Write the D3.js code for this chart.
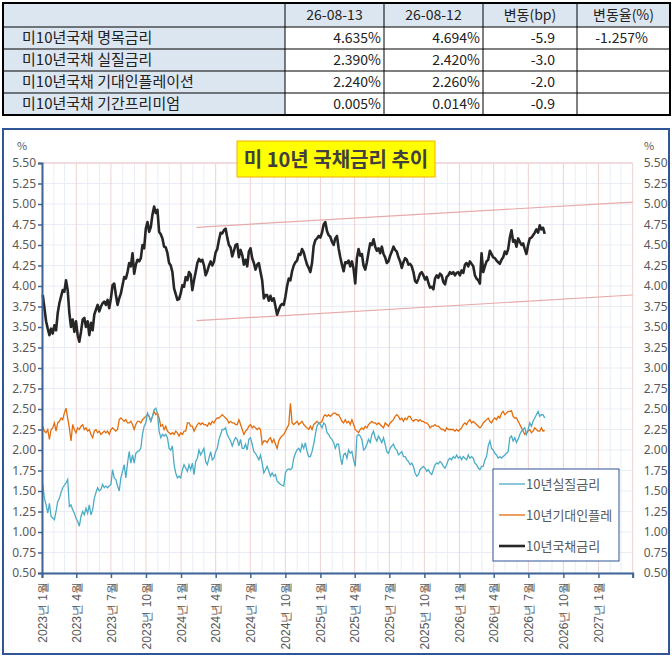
<!DOCTYPE html>
<html>
<head>
<meta charset="utf-8">
<script src="https://cdn.jsdelivr.net/npm/d3@7"></script>
<style>
  body { margin: 0; background: #fff; }
  svg { display: block; font-family: "Noto Sans CJK KR", "Noto Sans", sans-serif; }
</style>
</head>
<body>
<svg id="chart" width="672" height="656"></svg>
<script>
// ---- table data ----
var tableHeaders = ["", "26-08-13", "26-08-12", "변동(bp)", "변동율(%)"];
var rowNames = ["미10년국채 명목금리", "미10년국채 실질금리", "미10년국채 기대인플레이션", "미10년국채 기간프리미엄"];
var latest = ["4.635%", "2.390%", "2.240%", "0.005%"];
var previous = ["4.694%", "2.420%", "2.260%", "0.014%"];
var changeBp = ["-5.9", "-3.0", "-2.0", "-0.9"];
var changePct = ["-1.257%", "", "", ""];

// ---- chart data (observations sampled evenly from first to last date) ----
var firstDate = "2023-01-03", lastDate = "2026-08-13";
var nominal = [
  3.89,3.73,3.57,3.48,3.40,3.48,3.42,3.52,3.46,3.67,
  3.79,3.87,3.95,3.93,4.07,3.95,3.67,3.50,3.59,3.44,
  3.57,3.40,3.32,3.44,3.59,3.61,3.50,3.57,3.40,3.55,
  3.46,3.65,3.71,3.77,3.69,3.75,3.79,3.81,3.77,3.83,
  3.73,3.85,4.01,4.03,3.89,3.77,3.85,3.91,4.01,4.11,
  4.09,4.17,4.28,4.24,4.40,4.15,4.26,4.32,4.30,4.34,
  4.50,4.46,4.70,4.78,4.66,4.72,4.87,4.97,4.89,4.93,
  4.66,4.63,4.58,4.48,4.47,4.40,4.28,4.25,4.17,3.97,
  3.90,3.83,3.84,3.91,4.01,3.99,4.11,4.07,4.17,4.14,
  3.95,4.07,4.17,4.28,4.33,4.30,4.32,4.25,4.13,4.18,
  4.25,4.30,4.25,4.30,4.41,4.45,4.56,4.65,4.64,4.68,
  4.70,4.59,4.50,4.47,4.36,4.43,4.50,4.51,4.35,
  4.44,4.38,4.26,4.32,4.24,4.42,4.46,4.34,4.28,4.20,
  4.26,4.28,4.17,4.07,3.85,3.89,3.89,3.82,3.88,3.82,
  3.85,3.75,3.65,3.71,3.76,3.78,3.77,3.87,4.00,4.09,
  4.07,4.18,4.25,4.29,4.31,4.39,4.38,4.45,4.41,4.33,
  4.26,4.22,4.17,4.28,4.49,4.56,4.58,4.61,4.59,4.65,
  4.75,4.78,4.67,4.62,4.60,4.54,4.50,4.58,4.61,4.46,
  4.35,4.26,4.18,4.29,4.28,4.31,4.24,4.30,4.21,4.03,
  4.34,4.45,4.37,4.39,4.25,4.20,4.29,4.41,4.52,4.50,
  4.57,4.48,4.43,4.46,4.40,4.48,4.39,4.35,4.28,4.30,
  4.37,4.42,4.48,4.44,4.42,4.35,4.30,4.22,4.29,4.34,
  4.32,4.26,4.27,4.24,4.17,4.06,4.04,4.09,4.15,4.17,
  4.13,4.08,4.11,4.04,3.98,3.99,3.96,4.09,4.13,4.10,
  4.15,4.13,4.05,4.02,4.11,4.13,4.17,4.15,4.17,4.13,
  4.16,4.17,4.13,4.19,4.16,4.26,4.28,4.24,4.30,4.27,
  4.24,4.13,4.09,4.07,4.03,4.40,4.17,4.24,4.30,4.32,
  4.43,4.39,4.35,4.34,4.31,4.29,4.27,4.32,4.35,4.42,
  4.39,4.45,4.59,4.68,4.54,4.56,4.48,4.58,4.54,4.50,
  4.52,4.45,4.39,4.50,4.58,4.59,4.62,4.65,4.69,4.65,
  4.74,4.69,4.71,4.635
];
var realRate = [
  1.58,1.41,1.33,1.23,1.35,1.19,1.17,1.15,1.25,1.37,
  1.41,1.48,1.54,1.57,1.60,1.64,1.31,1.33,1.27,1.23,
  1.17,1.13,1.07,1.19,1.25,1.21,1.29,1.23,1.33,1.21,
  1.27,1.41,1.48,1.54,1.50,1.52,1.58,1.54,1.56,1.54,
  1.56,1.58,1.76,1.66,1.64,1.56,1.50,1.66,1.74,1.82,
  1.66,1.84,1.98,1.84,1.94,1.84,1.96,1.98,1.99,2.02,
  2.19,2.29,2.33,2.45,2.41,2.35,2.41,2.49,2.51,2.45,
  2.23,2.15,2.19,2.17,2.19,2.15,2.02,2.00,2.05,1.82,
  1.72,1.66,1.68,1.66,1.76,1.82,1.78,1.74,1.82,1.76,
  1.84,1.70,1.86,1.90,2.00,1.94,1.98,2.02,1.86,1.82,
  1.90,1.98,1.88,1.90,1.98,2.02,2.13,2.19,2.25,2.25,
  2.27,2.19,2.15,2.11,2.05,2.11,2.15,2.13,2.05,
  2.13,2.02,2.02,2.07,2.00,2.13,2.15,2.07,1.98,1.96,
  1.92,1.88,1.94,1.84,1.72,1.76,1.80,1.74,1.68,1.72,
  1.68,1.70,1.62,1.60,1.58,1.57,1.56,1.72,1.76,1.77,
  1.76,1.78,1.90,1.96,2.00,2.02,1.98,2.07,2.02,2.09,
  1.98,1.92,1.92,1.98,2.07,2.19,2.29,2.33,2.31,2.27,
  2.33,2.31,2.21,2.19,2.15,2.13,2.09,2.02,2.07,2.07,
  1.92,1.82,1.94,1.96,1.90,2.00,1.96,1.98,1.88,1.80,
  2.17,2.19,2.17,2.13,2.00,2.02,2.07,2.13,2.09,2.19,
  2.23,2.15,2.11,2.17,2.13,2.09,2.15,2.07,1.98,1.96,
  2.02,2.05,2.07,2.02,2.00,1.94,1.96,1.98,1.92,1.92,
  1.88,1.86,1.82,1.84,1.80,1.72,1.68,1.70,1.76,1.78,
  1.80,1.78,1.74,1.76,1.72,1.70,1.76,1.82,1.84,1.83,
  1.86,1.84,1.80,1.78,1.82,1.88,1.90,1.88,1.92,1.90,
  1.94,1.90,1.92,1.88,1.92,1.90,1.88,1.94,1.90,1.92,
  1.90,1.84,1.82,1.78,1.76,1.80,1.80,1.88,1.92,2.05,
  2.11,2.02,2.00,1.96,1.94,1.90,1.92,1.90,1.92,1.94,
  1.96,1.98,2.15,2.17,2.11,2.15,2.09,2.13,2.19,2.23,
  2.25,2.27,2.19,2.25,2.33,2.29,2.35,2.39,2.43,2.47,
  2.41,2.43,2.43,2.39
];
var breakeven = [
  2.29,2.23,2.21,2.25,2.13,2.25,2.27,2.33,2.23,2.33,
  2.35,2.39,2.37,2.45,2.51,2.39,2.27,2.11,2.31,2.25,
  2.21,2.27,2.25,2.29,2.31,2.25,2.27,2.23,2.25,2.19,
  2.15,2.23,2.25,2.21,2.23,2.19,2.21,2.23,2.21,2.23,
  2.19,2.25,2.27,2.25,2.23,2.25,2.37,2.39,2.37,2.35,
  2.37,2.33,2.33,2.35,2.31,2.25,2.31,2.35,2.35,2.33,
  2.37,2.39,2.41,2.43,2.41,2.35,2.41,2.47,2.43,2.45,
  2.39,2.29,2.31,2.25,2.29,2.23,2.21,2.19,2.21,2.19,
  2.23,2.21,2.17,2.21,2.19,2.23,2.23,2.33,2.33,2.29,
  2.29,2.23,2.27,2.31,2.33,2.31,2.33,2.31,2.31,2.29,
  2.33,2.31,2.35,2.33,2.37,2.39,2.39,2.41,2.43,2.41,
  2.39,2.37,2.33,2.35,2.33,2.33,2.31,2.31,2.37,
  2.31,2.25,2.19,2.23,2.25,2.29,2.31,2.27,2.29,2.27,
  2.25,2.27,2.25,2.07,2.11,2.11,2.09,2.13,2.15,2.09,
  2.13,2.07,2.02,2.11,2.15,2.17,2.19,2.23,2.27,2.31,
  2.57,2.33,2.31,2.33,2.35,2.31,2.33,2.35,2.31,2.29,
  2.27,2.25,2.29,2.25,2.31,2.33,2.35,2.33,2.33,2.35,
  2.41,2.43,2.41,2.43,2.41,2.43,2.45,2.45,2.43,2.43,
  2.39,2.35,2.33,2.37,2.33,2.35,2.31,2.37,2.31,2.25,
  2.23,2.21,2.25,2.27,2.25,2.29,2.27,2.31,2.33,2.35,
  2.33,2.33,2.31,2.33,2.31,2.29,2.27,2.33,2.31,2.29,
  2.33,2.35,2.37,2.41,2.43,2.41,2.37,2.39,2.35,2.39,
  2.37,2.41,2.41,2.37,2.35,2.37,2.37,2.35,2.37,2.35,
  2.35,2.33,2.33,2.31,2.27,2.29,2.29,2.31,2.29,2.29,
  2.27,2.25,2.25,2.23,2.27,2.25,2.25,2.25,2.25,2.23,
  2.25,2.23,2.25,2.27,2.31,2.33,2.31,2.35,2.37,2.33,
  2.35,2.33,2.31,2.29,2.27,2.29,2.33,2.35,2.37,2.39,
  2.35,2.33,2.37,2.39,2.37,2.41,2.39,2.45,2.47,2.43,
  2.45,2.47,2.47,2.48,2.41,2.39,2.39,2.35,2.31,2.27,
  2.23,2.19,2.21,2.23,2.25,2.21,2.23,2.27,2.25,2.23,
  2.23,2.27,2.23,2.24
];
// 추세 채널 (상단/하단)
var channelDates = ["2024-02-11", "2027-04-01"];
var channelUpper = [4.716, 5.024];
var channelLower = [3.577, 3.890];

var yTicks = [0.5,0.75,1,1.25,1.5,1.75,2,2.25,2.5,2.75,3,3.25,3.5,3.75,4,4.25,4.5,4.75,5,5.25,5.5];
var xTickLabels = ["2023년 1월","2023년 4월","2023년 7월","2023년 10월",
  "2024년 1월","2024년 4월","2024년 7월","2024년 10월",
  "2025년 1월","2025년 4월","2025년 7월","2025년 10월",
  "2026년 1월","2026년 4월","2026년 7월","2026년 10월","2027년 1월"];
var legendNames = ["10년실질금리", "10년기대인플레", "10년국채금리"];
var chartTitle = "미 10년 국채금리 추이";

+function(){
  var svg = d3.select("#chart");
  var parse = d3.timeParse("%Y-%m-%d");
  var txt = "#222";

  // ================= table =================
  var colX = [3, 285, 384, 483, 577, 670],
      rowY = [3, 27, 49, 71, 93, 115];
  var tbl = svg.append("g");
  // 배경
  tbl.append("rect").attr("x", colX[0]).attr("y", rowY[0])
    .attr("width", colX[5]-colX[0]).attr("height", rowY[1]-rowY[0]).attr("fill", "#dce6f1");
  tbl.append("rect").attr("x", colX[0]).attr("y", rowY[1])
    .attr("width", colX[1]-colX[0]).attr("height", rowY[5]-rowY[1]).attr("fill", "#dce6f1");
  // 선
  rowY.slice(1, 5).forEach(function(yy){
    tbl.append("line").attr("x1", colX[0]).attr("x2", colX[5]).attr("y1", yy).attr("y2", yy)
      .attr("stroke", "#000").attr("stroke-width", 1);
  });
  colX.slice(1, 5).forEach(function(xx){
    tbl.append("line").attr("x1", xx).attr("x2", xx).attr("y1", rowY[0]).attr("y2", rowY[5])
      .attr("stroke", "#000").attr("stroke-width", 1);
  });
  tbl.append("rect").attr("x", colX[0]).attr("y", rowY[0])
    .attr("width", colX[5]-colX[0]).attr("height", rowY[5]-rowY[0])
    .attr("fill", "none").attr("stroke", "#000").attr("stroke-width", 2);

  tableHeaders.forEach(function(h, i){
    if (!h) return;
    tbl.append("text").attr("x", (colX[i]+colX[i+1])/2).attr("y", (rowY[0]+rowY[1])/2 + 5)
      .attr("text-anchor", "middle").attr("font-size", 14).attr("fill", txt).text(h);
  });
  rowNames.forEach(function(name, r){
    var cy = (rowY[r+1]+rowY[r+2])/2 + 5;
    tbl.append("text").attr("x", 22).attr("y", cy).attr("font-size", 15).attr("fill", txt).text(name);
    tbl.append("text").attr("x", colX[2]-3).attr("y", cy).attr("text-anchor", "end")
      .attr("font-size", 14).attr("fill", txt).text(latest[r]);
    tbl.append("text").attr("x", colX[3]-3).attr("y", cy).attr("text-anchor", "end")
      .attr("font-size", 14).attr("fill", txt).text(previous[r]);
    tbl.append("text").attr("x", colX[4]-22).attr("y", cy).attr("text-anchor", "end")
      .attr("font-size", 14).attr("fill", txt).text(changeBp[r]);
    tbl.append("text").attr("x", (colX[4]+colX[5])/2 - 2).attr("y", cy).attr("text-anchor", "middle")
      .attr("font-size", 14).attr("fill", txt).text(changePct[r]);
  });

  // ================= chart =================
  svg.append("rect").attr("x", 3).attr("y", 129).attr("width", 666).attr("height", 525)
    .attr("fill", "#fff").attr("stroke", "#2f5597").attr("stroke-width", 2);

  var pl = 42, pr = 632.7, pt = 163, pb = 573;
  var x = d3.scaleTime().domain([new Date(2023,0,1), new Date(2027,3,1)]).range([pl, pr]);
  var y = d3.scaleLinear().domain([0.5, 5.5]).range([pb, pt]);

  var t0 = parse(firstDate).getTime(), t1 = parse(lastDate).getTime();
  function dateAt(i){ return new Date(t0 + i*(t1-t0)/(nominal.length-1)); }

  var grid = svg.append("g");
  var months = d3.timeMonth.range(new Date(2023,0,1), new Date(2027,3,2));
  var quarters = months.filter(function(d){ return d.getMonth() % 3 === 0; });
  // 보조 세로선 (월)
  grid.selectAll(".vminor").data(months.filter(function(d){ return d.getMonth() % 3 !== 0; }))
    .enter().append("line")
    .attr("x1", function(d){ return x(d); }).attr("x2", function(d){ return x(d); })
    .attr("y1", pt).attr("y2", pb).attr("stroke", "#e8edf5").attr("stroke-width", 1);
  // 가로선
  grid.selectAll(".h").data(yTicks).enter().append("line")
    .attr("x1", pl).attr("x2", pr)
    .attr("y1", function(d){ return y(d); }).attr("y2", function(d){ return y(d); })
    .attr("stroke", "#e8edf5").attr("stroke-width", 1);
  // 주 세로선 (분기)
  grid.selectAll(".vmajor").data(quarters).enter().append("line")
    .attr("x1", function(d){ return x(d); }).attr("x2", function(d){ return x(d); })
    .attr("y1", pt).attr("y2", pb).attr("stroke", "#f0d2d2").attr("stroke-width", 1);
  grid.append("line").attr("x1", pl).attr("x2", pr).attr("y1", pt).attr("y2", pt)
    .attr("stroke", "#f0d2d2").attr("stroke-width", 1.5);

  // 추세 채널
  [channelUpper, channelLower].forEach(function(vals){
    svg.append("line")
      .attr("x1", x(parse(channelDates[0]))).attr("y1", y(vals[0]))
      .attr("x2", x(parse(channelDates[1]))).attr("y2", y(vals[1]))
      .attr("stroke", "#e8aaaa").attr("stroke-width", 1.2);
  });

  var line = d3.line().x(function(d, i){ return x(dateAt(i)); }).y(function(d){ return y(d); });
  svg.append("path").datum(breakeven).attr("d", line).attr("fill", "none")
    .attr("stroke", "#e46c0a").attr("stroke-width", 1.3);
  svg.append("path").datum(realRate).attr("d", line).attr("fill", "none")
    .attr("stroke", "#4bacc6").attr("stroke-width", 1.3);
  svg.append("path").datum(nominal).attr("d", line).attr("fill", "none")
    .attr("stroke", "#262626").attr("stroke-width", 2.6).attr("stroke-linejoin", "round");

  // 축
  var axisColor = "#3e6496";
  var yLeft = svg.append("g").attr("transform", "translate(" + pl + ",0)")
    .call(d3.axisLeft(y).tickValues(yTicks).tickFormat(d3.format(".2f")).tickSize(4).tickPadding(2));
  yLeft.select(".domain").attr("stroke", axisColor).attr("stroke-width", 2);
  yLeft.selectAll(".tick line").attr("stroke", axisColor).attr("stroke-width", 1.5);
  yLeft.selectAll("text").attr("font-size", 12).attr("fill", "#595959")
    .attr("font-family", "'Noto Sans','DejaVu Sans',sans-serif");

  var yRight = svg.append("g").attr("transform", "translate(" + pr + ",0)")
    .call(d3.axisRight(y).tickValues(yTicks).tickFormat(d3.format(".2f")).tickSize(0).tickPadding(11));
  yRight.select(".domain").remove();
  yRight.selectAll("text").attr("font-size", 12).attr("fill", "#595959")
    .attr("font-family", "'Noto Sans','DejaVu Sans',sans-serif");

  var xAxis = svg.append("g").attr("transform", "translate(0," + pb + ")")
    .call(d3.axisBottom(x).tickValues(quarters).tickSize(5)
      .tickFormat(function(d, i){ return xTickLabels[i] || ""; }));
  xAxis.select(".domain").attr("stroke", axisColor).attr("stroke-width", 2);
  xAxis.selectAll(".tick line").attr("stroke", axisColor).attr("stroke-width", 1.5);
  xAxis.selectAll("text").attr("font-size", 12).attr("fill", "#595959")
    .attr("text-anchor", "end").attr("transform", "rotate(-90)")
    .attr("x", -9).attr("y", 0).attr("dy", "0.35em");

  svg.append("text").attr("x", 22).attr("y", 150).attr("text-anchor", "middle")
    .attr("font-size", 11).attr("fill", "#595959").text("%");
  svg.append("text").attr("x", 649).attr("y", 150).attr("text-anchor", "middle")
    .attr("font-size", 11).attr("fill", "#595959").text("%");

  // 제목
  svg.append("rect").attr("x", 237).attr("y", 141).attr("width", 198).attr("height", 36)
    .attr("fill", "#ffff00").attr("stroke", "#f0b000").attr("stroke-width", 1);
  svg.append("text").attr("x", 336).attr("y", 166.5).attr("text-anchor", "middle")
    .attr("font-size", 20).attr("font-weight", "bold").attr("fill", "#404040").text(chartTitle);

  // 범례
  var legendColors = ["#4bacc6", "#e46c0a", "#262626"],
      legendWidths = [1.3, 1.3, 2.6];
  var lg = svg.append("g").attr("transform", "translate(493,469)");
  lg.append("rect").attr("width", 126).attr("height", 92).attr("fill", "#fff")
    .attr("stroke", "#2f5597").attr("stroke-width", 1);
  legendNames.forEach(function(name, i){
    var ly = 15 + i*31;
    lg.append("line").attr("x1", 6).attr("x2", 32).attr("y1", ly).attr("y2", ly)
      .attr("stroke", legendColors[i]).attr("stroke-width", legendWidths[i]);
    lg.append("text").attr("x", 33).attr("y", ly + 5).attr("font-size", 13)
      .attr("fill", "#595959").text(name);
  });
}();
</script>
</body>
</html>
